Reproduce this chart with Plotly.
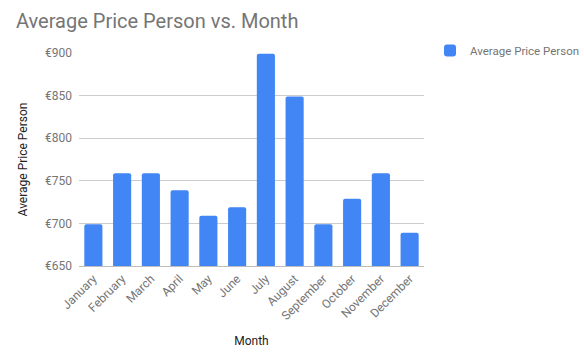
import plotly.graph_objects as go

months = ["January", "February", "March", "April", "May", "June", "July",
          "August", "September", "October", "November", "December"]
avg_price = [699, 759, 759, 739, 709, 719, 899, 849, 699, 729, 759, 689]
y_ticks = [650, 700, 750, 800, 850, 900]
y_tick_labels = ["€650", "€700", "€750", "€800", "€850", "€900"]

fig = go.Figure()
fig.add_trace(go.Bar(x=months, y=avg_price, name="Average Price Person",
                     marker=dict(color="#4285f4", line=dict(width=0)),
                     showlegend=True))

fig.update_layout(
    width=584, height=357,
    margin=dict(l=79, r=160, t=53, b=91, autoexpand=False),
    paper_bgcolor="white", plot_bgcolor="white",
    font=dict(family="Roboto, Arial, sans-serif", size=12, color="#757575"),
    title=dict(text="Average Price Person vs. Month", x=16/584, xanchor="left",
               y=1 - 21/357, yanchor="middle", pad=dict(l=0, r=0, t=0, b=0),
               font=dict(size=20, color="#757575")),
    bargap=0.37,
    barcornerradius=2,
    xaxis=dict(tickangle=-45, showgrid=False, ticks="", showline=True,
               linecolor="#bdbdbd", linewidth=1, automargin=False,
               title=dict(text="Month", font=dict(size=12, color="#222222"), standoff=14),
               tickfont=dict(size=12, color="#757575")),
    yaxis=dict(range=[650, 900], tickvals=y_ticks, ticktext=y_tick_labels,
               showgrid=True, gridcolor="#cccccc", gridwidth=1, zeroline=False,
               ticks="", ticklabelstandoff=6, automargin=False,
               title=dict(text="Average Price Person", font=dict(size=12, color="#222222"), standoff=14),
               tickfont=dict(size=12, color="#757575")),
    legend=dict(x=(430 - 79) / 345, y=1 + 17 / 213, xanchor="left", yanchor="top",
                itemwidth=30,
                font=dict(size=11.5, color="#757575"), bgcolor="rgba(0,0,0,0)"),
)

fig.write_html("out.html", config={"displayModeBar": False},
               post_script="document.body.style.margin='0';")
